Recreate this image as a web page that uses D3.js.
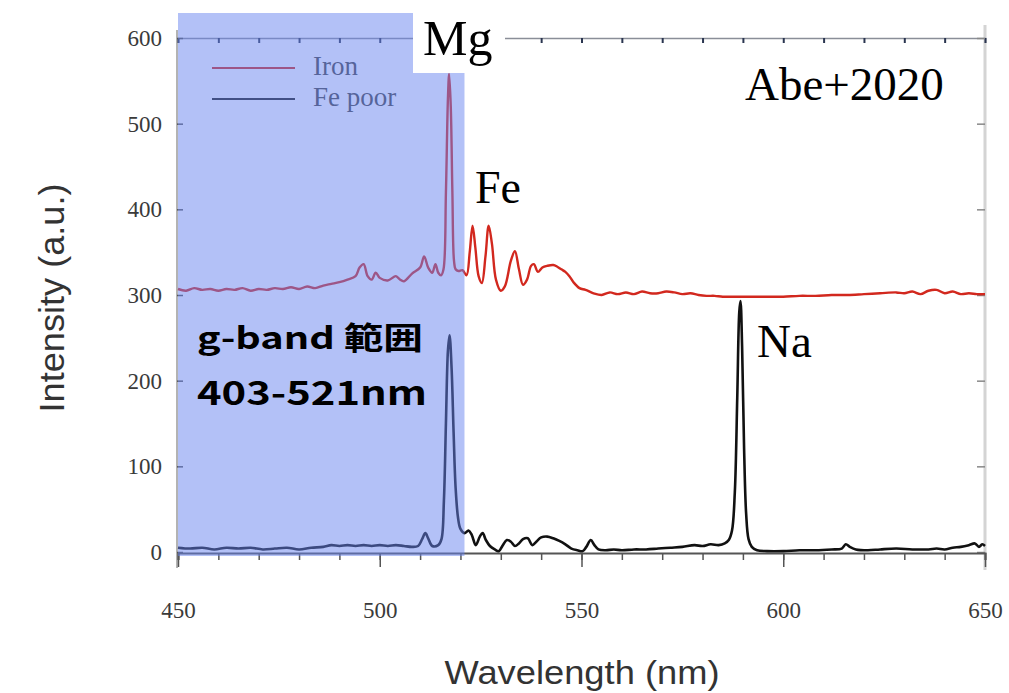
<!DOCTYPE html>
<html>
<head>
<meta charset="utf-8">
<script src="https://cdn.jsdelivr.net/npm/d3@7"></script>
<style>
  body { margin: 0; background: #fff; }
  svg { display: block; }
</style>
</head>
<body>
<div id="chart"></div>
<script>
// Iron sample (red)
const ironWl = [450, 452, 454, 456, 458, 460, 462, 464, 466, 468, 470, 472, 474, 476, 478, 480, 482, 484, 486, 488,
  490, 492, 494, 495, 496, 497, 498, 499, 500, 502, 504, 505, 506, 508, 510, 511, 512, 513, 513.8, 514.5,
  515.2, 515.8, 516.4, 516.9, 517.2, 517.6, 518, 518.4, 518.8, 519.5, 520.5, 521.5, 522.3, 523, 523.7, 524.5,
  525.3, 526.2, 527, 527.8, 528.8, 530, 531, 532.5, 533.5, 534.5, 535.5, 536.5, 537.5, 538.2, 539.2, 540.3,
  541.5, 543, 544, 545, 546, 547, 548, 549.5, 551, 553, 555, 557, 559, 561, 563, 565, 567, 569, 571, 573,
  575, 577, 579, 581, 583, 585, 588, 592, 596, 600, 604, 608, 612, 616, 620, 624, 628, 630, 632, 634, 636,
  638, 640, 642, 644, 646, 648, 650];
const ironVal = [307, 305, 308, 306, 307, 305, 307, 306, 308, 305, 307, 306, 308, 307, 309, 307, 310, 308, 311, 313,
  315, 318, 322, 332, 336, 322, 318, 326, 320, 317, 322, 318, 316, 325, 332, 345, 332, 326, 336, 326,
  323, 330, 420, 530, 558, 520, 420, 340, 330, 328, 329, 323, 350, 381, 355, 322,
  314, 345, 381, 360, 318, 305, 310, 340, 351, 330, 312, 318, 334, 336, 327, 332,
  334, 335, 333, 330, 327, 322, 315, 308, 306, 302, 300, 303, 301, 303, 301, 304, 302, 302, 304, 303,
  301, 302, 300, 299, 299, 298, 298, 298, 298, 298, 299, 299, 300, 300, 301, 302, 303, 302, 304, 301, 305,
  306, 302, 304, 301, 302, 301, 301];

// Fe poor sample (black)
const fePoorWl = [450, 453, 456, 459, 462, 465, 468, 471, 474, 477, 480, 483, 486, 488, 490, 492, 494, 496, 498, 500,
  502, 504, 506, 508, 509.5, 510.5, 511.3, 512, 513, 514.5, 515.3, 515.9, 516.4, 516.9, 517.3, 517.8, 518.3,
  518.8, 519.4, 520, 521, 522, 522.8, 523.8, 524.8, 525.5, 526.3, 527.3, 528.5, 529.5, 530.5, 531.5, 532.5,
  533.5, 534.5, 535.5, 536.7, 537.8, 538.8, 540, 541.5, 543, 544.5, 546, 547.5, 549, 550.3, 551.2, 552.3,
  553.2, 554.2, 556, 558, 560, 563, 566, 569, 572, 575, 578, 580, 582, 584, 585.5, 586.5, 587.3, 588, 588.6,
  589.1, 589.4, 589.8, 590.3, 590.8, 591.4, 592.2, 593.5, 596, 600, 604, 608, 612, 614.5, 615.5, 616.5, 618,
  621, 624, 628, 632, 636, 638, 640, 642, 644, 646, 647.5, 648.5, 649.3, 650];
const fePoorVal = [5, 4, 5, 3, 5, 4, 5, 3, 4, 5, 3, 5, 6, 8, 7, 8, 7, 8, 7, 8,
  7, 8, 7, 6, 7, 15, 22, 16, 7, 8, 15, 60, 150, 235, 253, 215, 140,
  75, 40, 27, 22, 25, 20, 8, 18, 22, 14, 7, 3, 1, 8, 14, 12,
  7, 10, 15, 16, 8, 12, 17, 18, 16, 13, 9, 4, 2, 1, 6, 14,
  8, 3, 2, 3, 2, 3, 3, 4, 5, 6, 8, 7, 9, 8, 10, 14, 25, 70, 180,
  280, 293, 240, 120, 45, 15, 6, 2, 1, 1, 2, 2, 3, 4, 9, 6, 3,
  2, 3, 4, 3, 3, 4, 3, 5, 6, 8, 10, 6, 9, 7];

const xTicks = [450, 500, 550, 600, 650];
const yTicks = [0, 100, 200, 300, 400, 500, 600];
const legendLabels = ["Iron", "Fe poor"];
const gBand = [403, 521];

const W = 1009, H = 693;
const svg = d3.select("#chart").append("svg").attr("width", W).attr("height", H);

const x = d3.scaleLinear().domain([450, 650]).range([178, 985]);
const y = d3.scaleLinear().domain([0, 600]).range([552, 38]);
const serif = "'Liberation Serif', 'Times New Roman', serif";
const sans = "'Liberation Sans', Arial, sans-serif";

// frame
svg.append("line").attr("x1", 985).attr("x2", 985).attr("y1", 25).attr("y2", 570)
  .attr("stroke", "#d4d4d4").attr("stroke-width", 3);
svg.append("line").attr("x1", 177).attr("x2", 177).attr("y1", 30).attr("y2", 568)
  .attr("stroke", "#9a9a9a").attr("stroke-width", 1.5);

// top axis, small inward ticks
const topAxis = svg.append("g").attr("transform", "translate(0,38)")
  .call(d3.axisTop(x).tickValues(d3.range(450, 651, 10)).tickSize(-5).tickFormat(""));
topAxis.select(".domain").attr("stroke", "#8a8e98").attr("stroke-width", 1.5);
topAxis.selectAll(".tick line").attr("stroke", "#2a3550").attr("stroke-width", 2);

// right axis ticks
const rightAxis = svg.append("g").attr("transform", "translate(985,0)")
  .call(d3.axisRight(y).tickValues(yTicks).tickSize(-8).tickFormat(""));
rightAxis.select(".domain").remove();
rightAxis.selectAll(".tick line").attr("stroke", "#888").attr("stroke-width", 1.5);

// left axis
const leftAxis = svg.append("g").attr("transform", "translate(177,0)")
  .call(d3.axisLeft(y).tickValues(yTicks).tickSize(-6).tickPadding(15));
leftAxis.select(".domain").remove();
leftAxis.selectAll(".tick line").attr("stroke", "#555").attr("stroke-width", 1.5);
leftAxis.selectAll("text").attr("font-family", serif).attr("font-size", 23).attr("fill", "#3a3a3a");

// bottom axis: minor + major ticks
const bottomMinor = svg.append("g").attr("transform", "translate(0,553)")
  .call(d3.axisBottom(x).tickValues(d3.range(450, 651, 10)).tickSize(7).tickFormat(""));
bottomMinor.select(".domain").attr("stroke", "#555").attr("stroke-width", 2);
bottomMinor.selectAll(".tick line").attr("stroke", "#555").attr("stroke-width", 1.5);
const bottomMajor = svg.append("g").attr("transform", "translate(0,553)")
  .call(d3.axisBottom(x).tickValues(xTicks).tickSize(14).tickPadding(35));
bottomMajor.select(".domain").remove();
bottomMajor.selectAll(".tick line").attr("stroke", "#555").attr("stroke-width", 1.5);
bottomMajor.selectAll("text").attr("font-family", serif).attr("font-size", 23).attr("fill", "#3a3a3a");

// axis titles
svg.append("text").attr("x", 582).attr("y", 684).attr("text-anchor", "middle")
  .attr("font-family", sans).attr("font-size", 33).attr("fill", "#333")
  .attr("textLength", 275).attr("lengthAdjust", "spacingAndGlyphs").text("Wavelength (nm)");
svg.append("text").attr("transform", "translate(64,298) rotate(-90)").attr("text-anchor", "middle")
  .attr("font-family", sans).attr("font-size", 35).attr("fill", "#333")
  .attr("textLength", 229).attr("lengthAdjust", "spacingAndGlyphs").text("Intensity (a.u.)");

// spectra
const line = d3.line().x(d => x(d[0])).y(d => y(d[1])).curve(d3.curveCatmullRom);
svg.append("path").datum(d3.zip(ironWl, ironVal)).attr("d", line)
  .attr("fill", "none").attr("stroke", "#d2281e").attr("stroke-width", 2.4).attr("stroke-linejoin", "round");
svg.append("path").datum(d3.zip(fePoorWl, fePoorVal)).attr("d", line)
  .attr("fill", "none").attr("stroke", "#111").attr("stroke-width", 2.6).attr("stroke-linejoin", "round");

// legend
const legColors = ["#d2281e", "#1a1a1a"];
legendLabels.forEach((lab, i) => {
  const ly = 68 + i * 31;
  svg.append("line").attr("x1", 212).attr("x2", 295).attr("y1", ly).attr("y2", ly)
    .attr("stroke", legColors[i]).attr("stroke-width", 2);
  svg.append("text").attr("x", 313).attr("y", ly + 7).attr("font-family", serif)
    .attr("font-size", 27).attr("fill", "#444").text(lab);
});

// g-band overlay
svg.append("rect").attr("x", x(450)).attr("y", 13).attr("width", x(gBand[1]) - x(450)).attr("height", 543)
  .attr("fill", "rgb(103,131,239)").attr("opacity", 0.5);

svg.append("text").attr("x", 197).attr("y", 349).attr("font-family", "'Noto Sans CJK JP', sans-serif")
  .attr("font-weight", "bold").attr("font-size", 31).attr("fill", "#000")
  .attr("textLength", 226).attr("lengthAdjust", "spacingAndGlyphs").text("g-band 範囲");
svg.append("text").attr("x", 197).attr("y", 405).attr("font-family", "'Noto Sans CJK JP', sans-serif")
  .attr("font-weight", "bold").attr("font-size", 33).attr("fill", "#000")
  .attr("textLength", 230).attr("lengthAdjust", "spacingAndGlyphs").text(gBand[0] + "-" + gBand[1] + "nm");

// line labels
svg.append("rect").attr("x", 413).attr("y", 13).attr("width", 92).attr("height", 60).attr("fill", "#fff");
svg.append("text").attr("x", 423).attr("y", 55).attr("font-family", serif).attr("font-size", 50).text("Mg");
svg.append("text").attr("x", 475).attr("y", 203).attr("font-family", serif).attr("font-size", 46).text("Fe");
svg.append("text").attr("x", 757).attr("y", 357).attr("font-family", serif).attr("font-size", 47).text("Na");
svg.append("text").attr("x", 745).attr("y", 100).attr("font-family", serif).attr("font-size", 47).text("Abe+2020");
</script>
</body>
</html>
